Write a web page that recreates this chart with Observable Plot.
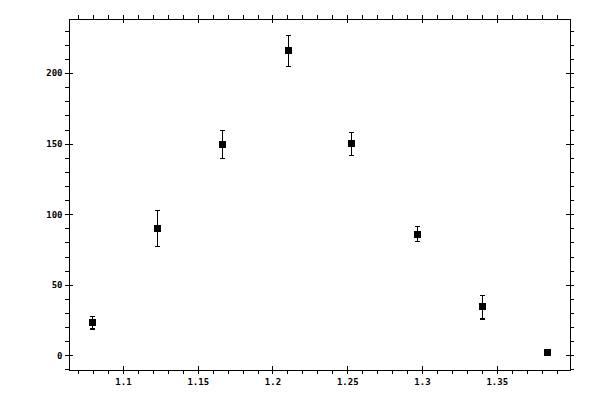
<!DOCTYPE html>
<html>
<head>
<meta charset="utf-8">
<script src="https://cdn.jsdelivr.net/npm/d3@7"></script>
<script src="https://cdn.jsdelivr.net/npm/@observablehq/plot@0.6"></script>
<style>
  html, body { margin: 0; padding: 0; background: #fff; }
  svg line, svg path, svg rect { shape-rendering: crispEdges; }
</style>
</head>
<body>
<div id="chart"></div>
<script>
// Data
const xValues = [1.0792, 1.1226, 1.1661, 1.2101, 1.2528, 1.2964, 1.3400, 1.3835];
const yValues = [23.4, 90.1, 149.6, 216.3, 150.4, 85.8, 34.8, 2.1];
const yErrLow = [19.1, 77.3, 139.7, 205.0, 141.8, 80.9, 26.2, 1.6];
const yErrHigh = [27.7, 102.8, 159.6, 227.0, 158.2, 91.5, 42.6, 2.6];

const xMajorTicks = [1.1, 1.15, 1.2, 1.25, 1.3, 1.35];
const xMinorTicks = d3.range(107, 140).map(v => v / 100).filter(v => !xMajorTicks.some(m => Math.abs(m - v) < 1e-9));
const yMajorTicks = [0, 50, 100, 150, 200];
const yMinorTicks = d3.range(-10, 240, 10).filter(v => v % 50 !== 0);

const xDomain = [1.0639, 1.399];
const yDomain = [-10.4, 238.3];

const points = xValues.map((x, i) => ({x, y: yValues[i], lo: yErrLow[i], hi: yErrHigh[i]}));

const W = 600, H = 400;
const mTop = 19, mBottom = 30, mLeft = 69, mRight = 30;
const fH = H - mTop - mBottom, fW = W - mLeft - mRight;
const maj = 4, minr = 4;

const capSymbol = {
  draw(context, size) {
    const s = 2.5;
    context.moveTo(-s, 0);
    context.lineTo(s, 0);
  }
};

const font = "'DejaVu Sans Mono', monospace";

const chart = Plot.plot({
  width: W,
  height: H,
  marginTop: mTop,
  marginBottom: mBottom,
  marginLeft: mLeft,
  marginRight: mRight,
  style: {fontFamily: font, fontSize: "9px", background: "#fff", color: "#000"},
  x: {domain: xDomain},
  y: {domain: yDomain},
  marks: [
    Plot.frame({stroke: "#000", strokeWidth: 1}),
    // bottom ticks
    Plot.ruleX(xMajorTicks, {x: d => d, insetTop: fH - maj, insetBottom: -maj, stroke: "#000"}),
    Plot.ruleX(xMinorTicks, {x: d => d, insetTop: fH, insetBottom: -minr, stroke: "#000"}),
    // top ticks
    Plot.ruleX(xMajorTicks, {x: d => d, insetBottom: fH - maj, insetTop: -maj, stroke: "#000"}),
    Plot.ruleX(xMinorTicks, {x: d => d, insetBottom: fH, insetTop: -minr, stroke: "#000"}),
    // left ticks
    Plot.ruleY(yMajorTicks, {y: d => d, insetRight: fW - maj, insetLeft: -maj, stroke: "#000"}),
    Plot.ruleY(yMinorTicks, {y: d => d, insetRight: fW, insetLeft: -minr, stroke: "#000"}),
    // right ticks
    Plot.ruleY(yMajorTicks, {y: d => d, insetLeft: fW - maj, insetRight: -maj, stroke: "#000"}),
    Plot.ruleY(yMinorTicks, {y: d => d, insetLeft: fW, insetRight: -minr, stroke: "#000"}),
    // tick labels
    Plot.axisX({ticks: xMajorTicks, tickSize: 0, tickPadding: 8, tickFormat: d => String(d), label: null, fontFamily: font, fontWeight: "bold"}),
    Plot.axisY({ticks: yMajorTicks, tickSize: 0, tickPadding: 7, tickFormat: d => String(d), label: null, fontFamily: font, fontWeight: "bold"}),
    // error bars
    Plot.ruleX(points, {x: "x", y1: "lo", y2: "hi", stroke: "#000", strokeWidth: 1}),
    Plot.dot(points, {x: "x", y: "hi", symbol: capSymbol, stroke: "#000", fill: "none", r: 3}),
    Plot.dot(points, {x: "x", y: "lo", symbol: capSymbol, stroke: "#000", fill: "none", r: 3}),
    // markers
    Plot.dot(points, {x: "x", y: "y", symbol: "square", fill: "#000", stroke: "none", r: 3.95})
  ]
});

document.getElementById("chart").appendChild(chart);
</script>
</body>
</html>
